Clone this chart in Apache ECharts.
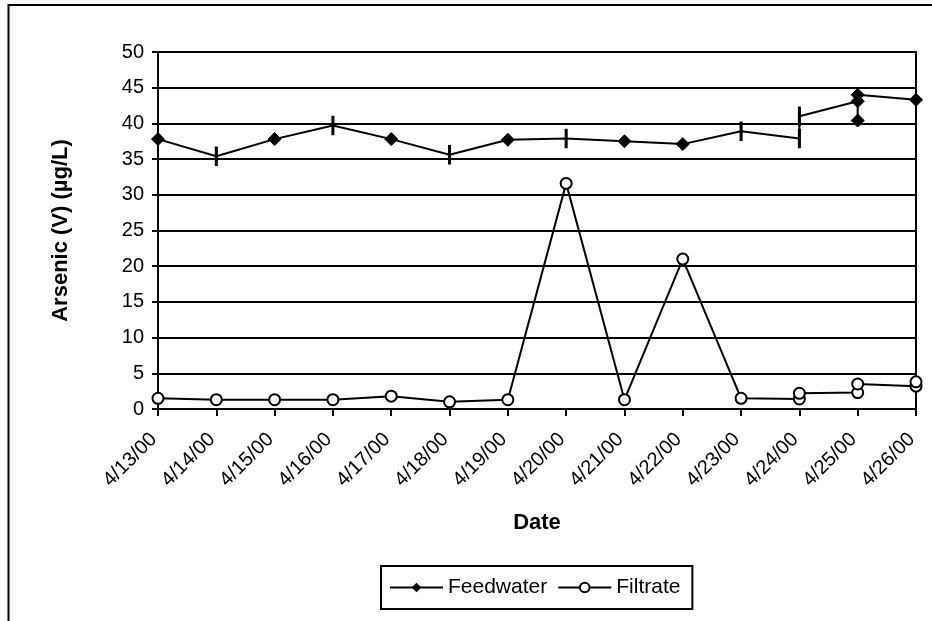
<!DOCTYPE html>
<html>
<head>
<meta charset="utf-8">
<script src="https://cdn.jsdelivr.net/npm/echarts@6/dist/echarts.min.js"></script>
<style>
html,body{margin:0;padding:0;background:#fff;}
#c{width:932px;height:621px;}
</style>
</head>
<body>
<div id="c"></div>
<script>
var dates = ['4/13/00','4/14/00','4/15/00','4/16/00','4/17/00','4/18/00','4/19/00','4/20/00','4/21/00','4/22/00','4/23/00','4/24/00','4/25/00','4/26/00'];

var feedwaterDates = ['4/13/00','4/14/00','4/15/00','4/16/00','4/17/00','4/18/00','4/19/00','4/20/00','4/21/00','4/22/00','4/23/00','4/24/00','4/24/00','4/25/00','4/25/00','4/25/00','4/26/00'];
var feedwaterValues = [37.8, 35.4, 37.8, 39.7, 37.8, 35.6, 37.7, 37.9, 37.5, 37.1, 38.9, 37.9, 41.0, 43.1, 40.4, 44.0, 43.3];

var filtrateDates = ['4/13/00','4/14/00','4/15/00','4/16/00','4/17/00','4/18/00','4/19/00','4/20/00','4/21/00','4/22/00','4/23/00','4/24/00','4/24/00','4/25/00','4/25/00','4/26/00','4/26/00'];
var filtrateValues = [1.5, 1.3, 1.3, 1.3, 1.8, 1.0, 1.3, 31.6, 1.3, 21.0, 1.5, 1.4, 2.2, 2.3, 3.5, 3.2, 3.8];

var yTicks = { min: 0, max: 50, interval: 5 };

// points drawn with a dash-shaped marker in the reference
var feedDashIdx = [1, 3, 5, 7, 10, 11, 12];

var FONT = '"Liberation Sans", Arial, sans-serif';

var feedData = feedwaterValues.map(function (v, i) {
  var item = { value: [feedwaterDates[i], v] };
  if (feedDashIdx.indexOf(i) >= 0) { item.symbol = 'rect'; item.symbolSize = [2, 13]; }
  return item;
});
var filtData = filtrateValues.map(function (v, i) { return [filtrateDates[i], v]; });

var chart = echarts.init(document.getElementById('c'), null, { renderer: 'canvas' });
chart.setOption({
  animation: false,
  backgroundColor: '#fff',
  textStyle: { fontFamily: FONT, color: '#000' },
  graphic: [{
    type: 'rect', silent: true,
    shape: { x: 8.5, y: 5, width: 1000, height: 1000 },
    style: { fill: 'none', stroke: '#000', lineWidth: 2 }
  }],
  grid: {
    left: 158, right: 16, top: 52, bottom: 212,
    show: true, borderColor: '#000', borderWidth: 2,
    containLabel: false, outerBoundsMode: 'none'
  },
  legend: {
    left: 381, top: 566,
    orient: 'horizontal',
    borderColor: '#000', borderWidth: 2, borderRadius: 0,
    padding: [11, 12, 11, 8],
    itemWidth: 53, itemHeight: 12, itemGap: 10,
    textStyle: { fontFamily: FONT, fontSize: 21, color: '#000' },
    data: ['Feedwater', 'Filtrate']
  },
  xAxis: {
    type: 'category',
    data: dates,
    boundaryGap: false,
    name: 'Date',
    nameLocation: 'middle',
    nameGap: 103,
    nameTextStyle: { fontFamily: FONT, fontSize: 22, fontWeight: 'bold', color: '#000' },
    axisLine: { lineStyle: { color: '#000', width: 2 } },
    axisTick: { show: true, alignWithLabel: true, length: 7, lineStyle: { color: '#000', width: 2 } },
    axisLabel: { rotate: 45, margin: 23, padding: [0, 6, 0, 0], fontFamily: FONT, fontSize: 20, color: '#000', interval: 0 },
    splitLine: { show: false }
  },
  yAxis: {
    type: 'value',
    min: yTicks.min, max: yTicks.max, interval: yTicks.interval,
    name: 'Arsenic (V) (µg/L)',
    nameLocation: 'middle',
    nameGap: 86,
    nameTextStyle: { fontFamily: FONT, fontSize: 22, fontWeight: 'bold', color: '#000' },
    axisLine: { show: true, lineStyle: { color: '#000', width: 2 } },
    axisTick: { show: true, length: 6, lineStyle: { color: '#000', width: 2 } },
    axisLabel: { margin: 14, fontFamily: FONT, fontSize: 20, color: '#000' },
    splitLine: { show: true, lineStyle: { color: '#000', width: 2 } }
  },
  series: [
    {
      name: 'Feedwater', type: 'line',
      data: feedData,
      symbol: 'diamond', symbolSize: 13,
      lineStyle: { color: '#000', width: 2 },
      itemStyle: { color: '#000', borderColor: '#000' },
      z: 3
    },
    {
      name: 'Filtrate', type: 'line',
      data: filtData,
      symbol: 'circle', symbolSize: 11,
      lineStyle: { color: '#000', width: 2 },
      itemStyle: { color: '#fff', borderColor: '#000', borderWidth: 2 },
      z: 4
    }
  ]
});
</script>
</body>
</html>
